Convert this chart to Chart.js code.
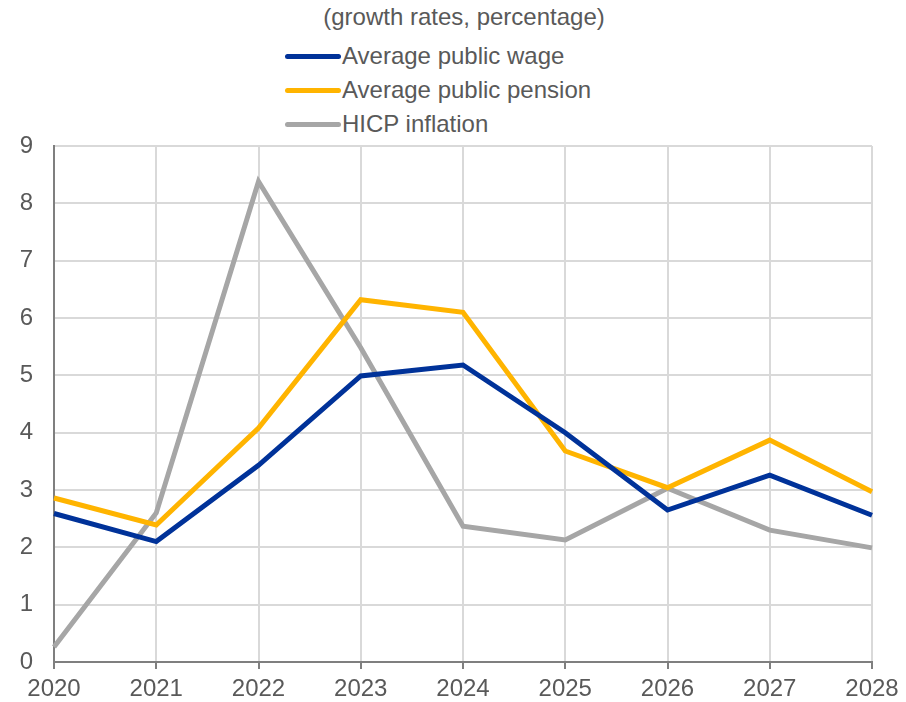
<!DOCTYPE html>
<html>
<head>
<meta charset="utf-8">
<script src="https://cdn.jsdelivr.net/npm/chart.js@4"></script>
<style>
    body { margin: 0; width: 906px; height: 702px; background: #fff; font-family: "Liberation Sans", Arial, sans-serif; color: #595959; position: relative; overflow: hidden; }
    #title { position: absolute; top: 3px; left: 0; width: 928px; text-align: center; font-size: 24px; line-height: 28px; }
    #legend { position: absolute; top: 39px; left: 285px; font-size: 24px; }
    .item { height: 34px; display: flex; align-items: center; }
    .swatch { width: 56px; height: 5px; border-radius: 3px; margin-right: 1px; }
    #wrap { position: absolute; left: 0; top: 0; width: 906px; height: 702px; }
</style>
</head>
<body>
<div id="title">(growth rates, percentage)</div>
<div id="legend"></div>
<div id="wrap"><canvas id="myChart"></canvas></div>
<script>
const years = ["2020", "2021", "2022", "2023", "2024", "2025", "2026", "2027", "2028"];
const publicWage = [2.59, 2.1, 3.43, 4.99, 5.18, 4.0, 2.65, 3.26, 2.56];
const publicPension = [2.86, 2.39, 4.08, 6.32, 6.1, 3.68, 3.04, 3.87, 2.97];
const hicp = [0.26, 2.6, 8.38, 5.48, 2.37, 2.13, 3.03, 2.3, 1.99];

const seriesNames = ["Average public wage", "Average public pension", "HICP inflation"];
const seriesColors = ["#003299", "#ffb400", "#a6a6a6"];
const seriesData = [publicWage, publicPension, hicp];

// legend as plain html, stacked
const legend = document.getElementById("legend");
seriesNames.forEach((name, i) => {
    const row = document.createElement("div");
    row.className = "item";
    row.innerHTML = '<span class="swatch" style="background:' + seriesColors[i] + '"></span>' + name;
    legend.appendChild(row);
});

Chart.defaults.font.family = '"Liberation Sans", Arial, sans-serif';
Chart.defaults.font.size = 24;
Chart.defaults.color = "#595959";

const ctx = document.getElementById("myChart");
new Chart(ctx, {
    type: "line",
    data: {
        labels: years,
        datasets: seriesNames.map((name, i) => ({
            label: name,
            data: seriesData[i],
            borderColor: seriesColors[i],
            backgroundColor: seriesColors[i],
            borderWidth: 5,
            pointRadius: 0,
            tension: 0,
            fill: false,
        })),
    },
    options: {
        responsive: true,
        maintainAspectRatio: false,
        animation: false,
        layout: { padding: { top: 146, right: 34, left: 0, bottom: 0 } },
        plugins: {
            legend: { display: false },
            tooltip: { enabled: false },
        },
        scales: {
            x: {
                offset: false,
                grid: { color: "#d9d9d9", lineWidth: 2, tickLength: 7, tickColor: "#7f7f7f", tickWidth: 2 },
                border: { color: "#7f7f7f", width: 2 },
                ticks: { padding: 6, maxRotation: 0, autoSkip: false },
                afterFit: (scale) => { scale.height = 40; },
            },
            y: {
                min: 0,
                max: 9,
                ticks: { stepSize: 1, padding: 21 },
                grid: { color: "#d9d9d9", lineWidth: 2, drawTicks: false },
                border: { color: "#7f7f7f", width: 2 },
                afterFit: (scale) => { scale.width = 54; },
            },
        },
    },
});
</script>
</body>
</html>
